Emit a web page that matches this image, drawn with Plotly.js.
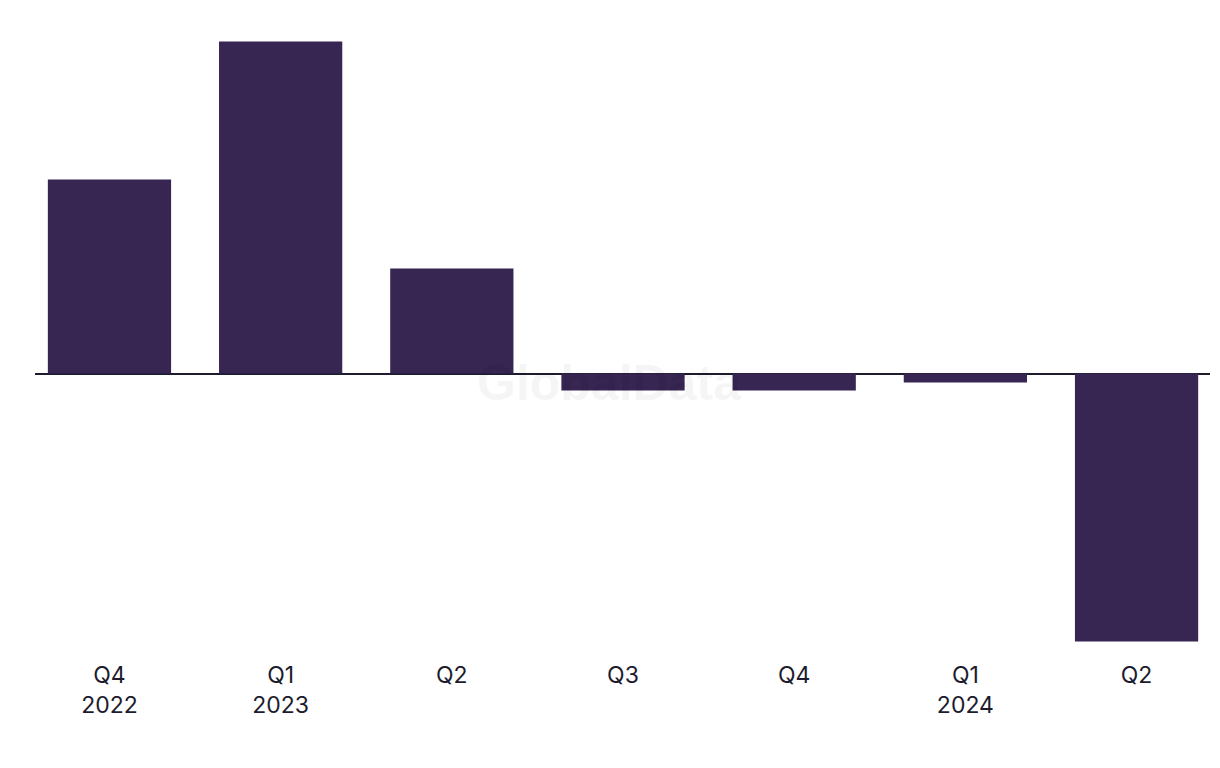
<!DOCTYPE html>
<html>
<head>
<meta charset="utf-8">
<script src="https://cdn.plot.ly/plotly-3.0.1.min.js"></script>
<style>html,body{margin:0;padding:0;background:#fff;}#chart{width:1220px;height:768px;}</style>
</head>
<body>
<div id="chart"></div>
<script>
const categories = ["Q4 2022", "Q1 2023", "Q2 2023", "Q3 2023", "Q4 2023", "Q1 2024", "Q2 2024"];
const tickLabels = ["Q4<br>2022", "Q1<br>2023", "Q2", "Q3", "Q4", "Q1<br>2024", "Q2"];
const values = [19.4, 33.2, 10.5, -1.7, -1.7, -0.9, -26.8];

const trace = {
  type: 'bar',
  x: categories,
  y: values,
  marker: {color: '#372552'},
  hoverinfo: 'x+y'
};

const layout = {
  width: 1220,
  height: 768,
  margin: {l: 35, r: 10, t: 30, b: 118},
  paper_bgcolor: '#ffffff',
  plot_bgcolor: '#ffffff',
  showlegend: false,
  bargap: 0.28,
  font: {family: 'Inter, "Liberation Sans", sans-serif', size: 23, color: '#1c1c2e'},
  xaxis: {
    type: 'category',
    tickmode: 'array',
    tickvals: categories,
    ticktext: tickLabels,
    range: [-0.435, 6.429],
    showgrid: false,
    showline: false,
    zeroline: false,
    ticks: '',
    ticklabelstandoff: 9,
    tickfont: {size: 23, color: '#1c1c2e'}
  },
  yaxis: {
    range: [-27.65, 34.35],
    showgrid: false,
    showticklabels: false,
    ticks: '',
    zeroline: true,
    zerolinecolor: '#1c1c2e',
    zerolinewidth: 2,
    showline: false
  },
  annotations: [{
    text: 'GlobalData',
    xref: 'paper', yref: 'paper',
    x: 0.489, y: 0.43,
    showarrow: false,
    font: {size: 50, color: 'rgba(0,0,0,0.04)', family: '"Liberation Sans Narrow", "Liberation Sans", Arial, sans-serif', weight: 'bold'}
  }]
};

Plotly.newPlot('chart', [trace], layout, {displayModeBar: false, staticPlot: true});
</script>
</body>
</html>
